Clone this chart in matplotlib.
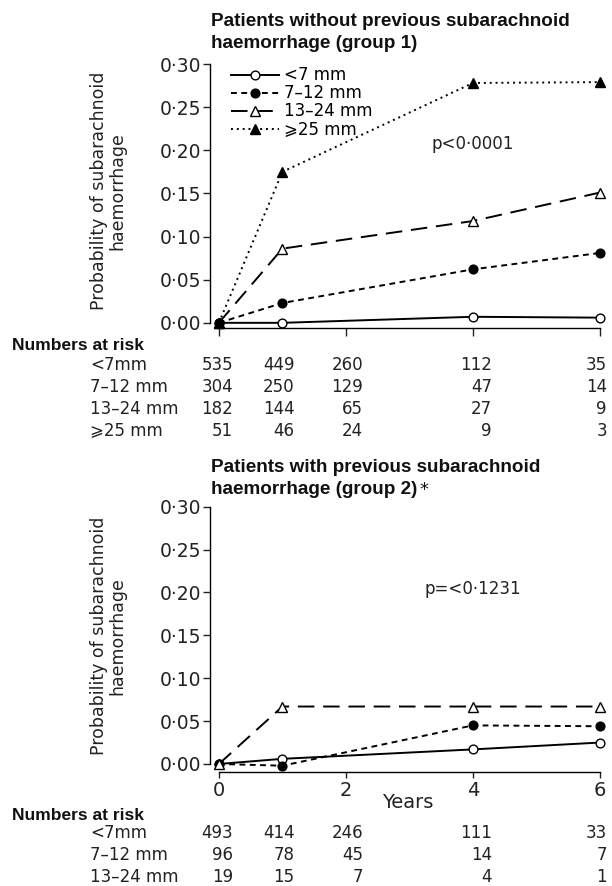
import numpy as np
import matplotlib
matplotlib.use("Agg")
import matplotlib.pyplot as plt
from matplotlib.ticker import FuncFormatter
from matplotlib.transforms import blended_transform_factory, ScaledTranslation

plt.rcParams['font.family'] = ['DejaVu Sans']
BOLD = ['Liberation Sans', 'DejaVu Sans']

# --- data ---
years = [0, 1, 4, 6]
sizes = ['<7 mm', '7–12 mm', '13–24 mm', '⩾25 mm']

g1_lt7 = [0.0, 0.0, 0.007, 0.006]
g1_7_12 = [0.0, 0.023, 0.062, 0.081]
g1_13_24 = [0.0, 0.086, 0.118, 0.151]
g1_ge25 = [0.0, 0.175, 0.278, 0.279]

g2_lt7 = [0.0, 0.006, 0.017, 0.025]
g2_7_12 = [0.0, -0.002, 0.045, 0.044]
g2_13_24 = [0.0, 0.067, 0.067, 0.067]

risk_years = [0, 1, 2, 4, 6]
g1_risk_labels = ['<7mm', '7–12 mm', '13–24 mm', '⩾25 mm']
g1_risk = [[535, 449, 260, 112, 35],
           [304, 250, 129, 47, 14],
           [182, 144, 65, 27, 9],
           [51, 46, 24, 9, 3]]
g2_risk_labels = ['<7mm', '7–12 mm', '13–24 mm']
g2_risk = [[493, 414, 246, 111, 33],
           [96, 78, 45, 14, 7],
           [19, 15, 7, 4, 1]]

y_ticks = [0.0, 0.05, 0.10, 0.15, 0.20, 0.25, 0.30]
x_ticks = [0, 2, 4, 6]

W, H = 612, 886
fig = plt.figure(figsize=(W / 100, H / 100), dpi=100)

styles = [
    dict(ls='-', marker='o', mfc='white', ms=6.3),
    dict(ls=(0, (3, 2.3)), marker='o', mfc='black', ms=6.3),
    dict(ls=(0, (8.5, 4.5)), marker='^', mfc='white', ms=7.8),
    dict(ls=(0, (1, 2)), marker='^', mfc='black', ms=7.8),
]


def px_axes(left, right, top, bottom):
    return fig.add_axes([left / W, 1 - bottom / H, (right - left) / W, (bottom - top) / H])


def setup(ax, ybottom):
    ax.set_xlim(-0.14, 6.15)
    ax.set_ylim(ybottom, 0.30)
    for s in ['top', 'right']:
        ax.spines[s].set_visible(False)
    ax.spines['left'].set_bounds(0, 0.30)
    ax.spines['bottom'].set_bounds(0, 6)
    ax.spines['left'].set_linewidth(1.0)
    ax.spines['bottom'].set_linewidth(1.0)
    ax.set_yticks(y_ticks)
    ax.yaxis.set_major_formatter(FuncFormatter(lambda v, p: f"{v:.2f}".replace('.', '·')))
    ax.set_xticks(x_ticks)
    ax.tick_params(axis='y', length=5, width=1, pad=1, labelsize=13.5, colors='#222222')
    ax.tick_params(axis='x', length=4.5, width=1, pad=2, labelsize=14, colors='#222222')


def draw(ax, series):
    for vals, st, lab in zip(series, styles, sizes):
        ax.plot(years, vals, color='black', lw=1.4, mec='black', mew=1.0,
                clip_on=False, label=lab, **st)


def ylabel(ycenter):
    fig.text(108 / W, 1 - ycenter / H, 'Probability of subarachnoid\nhaemorrhage',
             rotation=90, ha='center', va='center', fontsize=12.5,
             multialignment='center', color='#222222', linespacing=1.05)


def title(ytop, line1, line2, star=False):
    kw = dict(family=BOLD, fontweight='bold', fontsize=13.6, va='center',
              ha='left', color='#111111')
    fig.text(211 / W, 1 - ytop / H, line1, **kw)
    t = fig.text(211 / W, 1 - (ytop + 21) / H, line2, **kw)
    if star:
        # footnote mark in regular weight right after the second line
        fig.canvas.draw()
        bb = t.get_window_extent(fig.canvas.get_renderer())
        fig.text((bb.x1 + 2) / W, bb.y1 / H, '*', fontsize=13,
                 ha='left', va='top', color='#111111')


def risk_table(ax, labels, rows, head_y, row_y0):
    fig.text(12 / W, 1 - head_y / H, 'Numbers at risk', family=BOLD,
             fontweight='bold', fontsize=12.5, va='center', ha='left', color='#111111')
    nudge = [14, 12, 17, 19, 7]
    tr = blended_transform_factory(ax.transData, fig.transFigure)
    for i, (lab, row) in enumerate(zip(labels, rows)):
        yy = 1 - (row_y0 + 22 * i) / H
        fig.text(90 / W, yy, lab, fontsize=12, va='center', ha='left', color='#222222')
        for x, n, d in zip(risk_years, row, nudge):
            ax.text(x, yy, str(n), fontsize=12, va='center', ha='right', color='#222222',
                    transform=tr + ScaledTranslation(d / 100, 0, fig.dpi_scale_trans))


# --- group 1 ---
ax1 = px_axes(210, 609.5, 64, 328)
setup(ax1, -0.006)
ax1.tick_params(axis='x', labelbottom=False, length=6)
draw(ax1, [g1_lt7, g1_7_12, g1_13_24, g1_ge25])
ax1.legend(loc='upper left', bbox_to_anchor=(231 / W, 1 - 66.5 / H),
           bbox_transform=fig.transFigure, frameon=False, fontsize=12,
           labelspacing=0.0, handlelength=2.9, handletextpad=0.3,
           borderpad=0, borderaxespad=0, numpoints=1)
fig.text(473 / W, 1 - 144 / H, 'p<0·0001', fontsize=12, ha='center', va='center',
         color='#222222')
title(22, 'Patients without previous subarachnoid', 'haemorrhage (group 1)')
ylabel(191)
risk_table(ax1, g1_risk_labels, g1_risk, 345, 365)

# --- group 2 ---
ax2 = px_axes(210, 609.5, 506.7, 771.7)
setup(ax2, -0.009)
draw(ax2, [g2_lt7, g2_7_12, g2_13_24])
fig.text(473 / W, 1 - 589 / H, 'p=<0·1231', fontsize=12, ha='center', va='center',
         color='#222222')
title(468, 'Patients with previous subarachnoid', 'haemorrhage (group 2)', star=True)
fig.text(408 / W, 1 - 802 / H, 'Years', fontsize=14, ha='center', va='center',
         color='#222222')
ylabel(636)
risk_table(ax2, g2_risk_labels, g2_risk, 815, 833)

fig.savefig('out.png', dpi=100)
